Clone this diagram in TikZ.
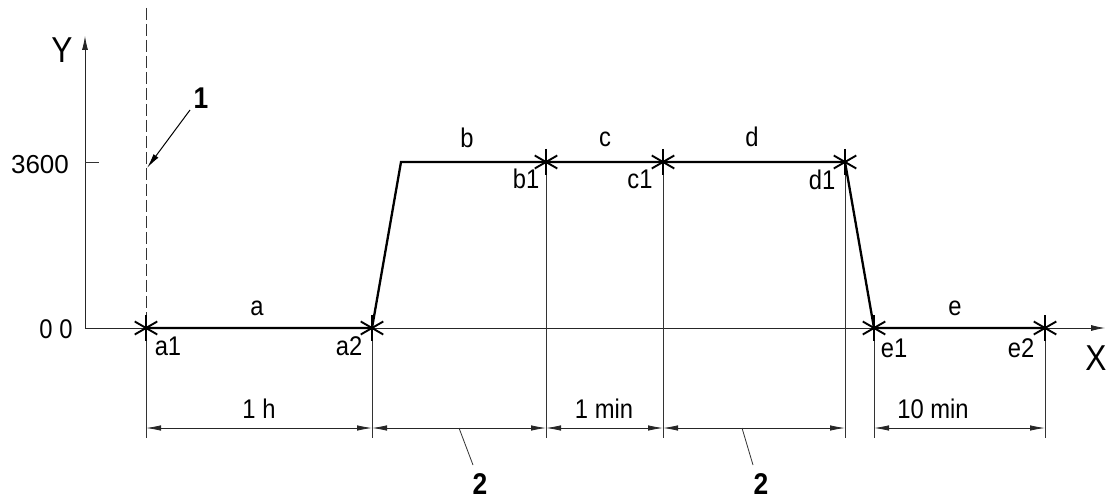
\documentclass[tikz,border=0pt]{standalone}
\usepackage{fontspec}
\setmainfont{Liberation Sans}
\newfontfamily\tech[FakeStretch=0.88]{Liberation Sans}
\usetikzlibrary{arrows.meta}
\begin{document}
\begin{tikzpicture}[x=1pt,y=-1pt,
  thinln/.style={line width=0.8pt, black!80},
  profile/.style={line width=2.3pt, line join=miter},
  starline/.style={line width=1.9pt},
  dimarrow/.style={line width=0.8pt, black!85, {Latex[length=15pt,width=5.5pt]}-{Latex[length=15pt,width=5.5pt]}},
  axisarrow/.style={line width=0.8pt, black!85, -{Latex[length=14pt,width=6pt]}},
  lbl/.style={font=\tech\fontsize{27}{29}\selectfont, inner sep=0pt},
  big/.style={font=\tech\fontsize{36}{38}\selectfont, inner sep=0pt},
  num/.style={font=\tech\bfseries\fontsize{30}{32}\selectfont, inner sep=0pt},
]
\useasboundingbox (0,0) rectangle (1107,502);
\fill[white] (0,0) rectangle (1107,502);

% coordinates
\coordinate (O) at (85,328);
\coordinate (Ytop) at (85,36);
\coordinate (Xend) at (1105,328);
\coordinate (tick) at (99,162);
\coordinate (tick0) at (85,162);
\coordinate (a1) at (146,328);
\coordinate (a2) at (372,328);
\coordinate (tl) at (401,162);
\coordinate (b1) at (546,162);
\coordinate (c1) at (663,162);
\coordinate (d1) at (845,162);
\coordinate (e1) at (874,328);
\coordinate (e2) at (1045,328);
\coordinate (dashtop) at (146,8);
\coordinate (ptr) at (147,168);
\coordinate (ptrstart) at (190,110);

% dimension coordinates
\foreach \n/\x in {A/146,B/372,C/546,D/663,E/845,F/874,G/1045}{
  \coordinate (dim\n) at (\x,428);
  \coordinate (ext\n) at (\x,438);
}

% axes
\draw[axisarrow] (O) -- (Ytop);
\draw[axisarrow] (O) -- (Xend);
\draw[thinln] (tick0) -- (tick);
\node[big] (ylab) at (62,50) {Y};
\node[big] (xlab) at (1096,358) {X};
\node[font=\fontsize{26}{28}\selectfont, inner sep=0pt] (v3600) at (40,165) {3600};
\node[lbl] (v00) at (56,329) {0 0};

% dashed reference line
\draw[thinln, dash pattern=on 12pt off 4pt] (dashtop) -- (a1);
\draw[line width=1pt, -{Latex[length=15pt,width=6pt]}] (ptrstart) -- (ptr);
\node[num] (n1) at (201,98) {1};

% extension lines
\draw[thinln] (a1) -- (extA);
\draw[thinln] (a2) -- (extB);
\draw[thinln] (b1) -- (extC);
\draw[thinln] (c1) -- (extD);
\draw[thinln] (d1) -- (extE);
\draw[thinln] (e1) -- (extF);
\draw[thinln] (e2) -- (extG);

% profile
\draw[profile] (a1) -- (a2) -- (tl) -- (b1) -- (c1) -- (d1) -- (e1) -- (e2);

% star markers
\foreach \p in {a1,a2,b1,c1,d1,e1,e2}{
  \foreach \ang in {90,30,150}{
    \draw[starline] (\p) ++(\ang:13pt) -- ++(\ang+180:26pt);
  }
}

% segment labels
\node[lbl] (la) at (257,308) {a};
\node[lbl] (lb) at (467,138) {b};
\node[lbl] (lc) at (605,139) {c};
\node[lbl] (ld) at (752,137) {d};
\node[lbl] (le) at (955,308) {e};

% point labels
\node[lbl] (la1) at (168,346) {a1};
\node[lbl] (la2) at (349,346) {a2};
\node[lbl] (lb1) at (526,179) {b1};
\node[lbl] (lc1) at (640,179) {c1};
\node[lbl] (ld1) at (822,180) {d1};
\node[lbl] (le1) at (894,348) {e1};
\node[lbl] (le2) at (1021,348) {e2};

% dimension lines
\draw[dimarrow] (dimA) -- (dimB);
\draw[dimarrow] (dimB) -- (dimC);
\draw[dimarrow] (dimC) -- (dimD);
\draw[dimarrow] (dimD) -- (dimE);
\draw[dimarrow] (dimF) -- (dimG);
\node[lbl] (t1) at (259,409) {1 h};
\node[lbl] (t2) at (604,409) {1 min};
\node[lbl] (t3) at (933,409) {10 min};

% leaders 2
\coordinate (l1s) at (459,428);
\coordinate (l1e) at (473,465);
\coordinate (l2s) at (742,428);
\coordinate (l2e) at (753,465);
\draw[thinln] (l1s) -- (l1e);
\draw[thinln] (l2s) -- (l2e);
\node[num] (n2a) at (480,484) {2};
\node[num] (n2b) at (761,484) {2};
\end{tikzpicture}
\end{document}
